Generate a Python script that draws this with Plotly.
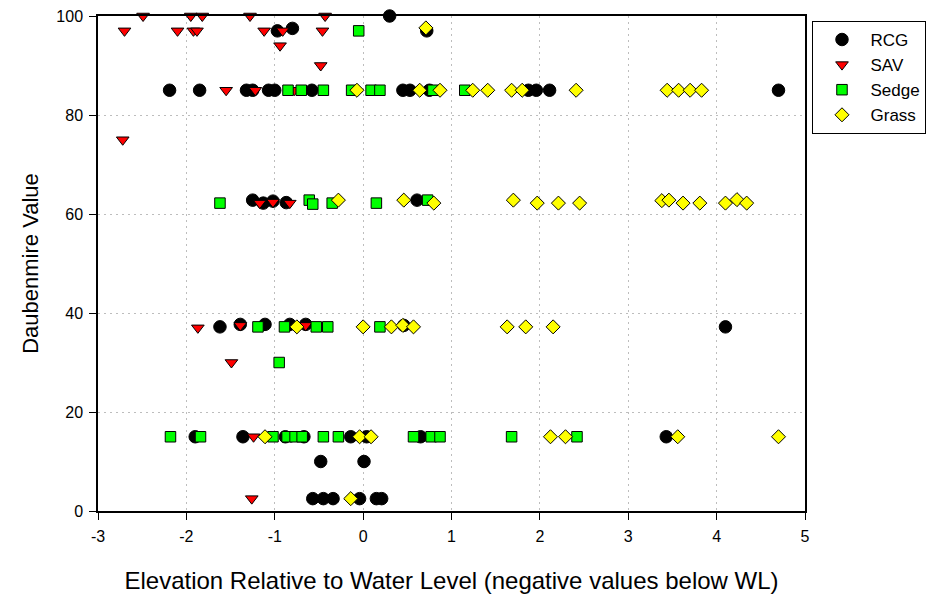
import plotly.graph_objects as go

# ---- data ----
rcg_x = [0.30, -0.97, -0.80, 0.72,
         -2.19, -1.85, -1.32, -1.25, -1.07, -1.00, -0.58, 0.45, 0.53, 0.75, 1.87, 1.96, 2.11, 4.70,
         -1.25, -1.13, -1.02, -0.87, 0.61,
         -1.62, -1.39, -1.11, -0.83, -0.65, 0.46, 4.10,
         -1.90, -1.36, -0.88, -0.67, -0.14, 0.04, 0.65, 3.43,
         -0.48, 0.01,
         -0.57, -0.45, -0.34, -0.04, 0.15, 0.21]
rcg_y = [100, 97, 97.5, 97,
         85, 85, 85, 85, 85, 85, 85, 85, 85, 85, 85, 85, 85, 85,
         62.8, 62.2, 62.6, 62.3, 62.8,
         37.2, 37.7, 37.7, 37.7, 37.7, 37.5, 37.2,
         15, 15, 15, 15, 15, 15, 15, 15,
         10, 10,
         2.5, 2.5, 2.5, 2.5, 2.5, 2.5]

sav_x = [-2.49, -1.95, -1.82, -1.28, -0.43,
         -2.70, -2.10, -1.92, -1.88, -1.12, -0.91, -0.46,
         -0.94, -0.48,
         -1.55, -1.22, -0.78,
         -2.72,
         -1.17, -1.02, -0.83,
         -1.87, -1.39, -0.65,
         -1.49, -1.24, -1.26]
sav_y = [100, 100, 100, 100, 100,
         97, 97, 97, 97, 97, 97, 97,
         94, 90,
         85, 85, 85,
         75,
         62.2, 62.4, 62.2,
         37.0, 37.5, 37.5,
         30, 15, 2.5]

sedge_x = [-0.05,
           -0.85, -0.70, -0.45, -0.13, 0.09, 0.19, 0.79, 1.15,
           -1.62, -0.61, -0.57, -0.35, 0.15, 0.73,
           -1.19, -0.89, -0.53, -0.40, 0.19,
           -0.95,
           -2.18, -1.84, -1.02, -0.86, -0.77, -0.69, -0.45, -0.28, 0.57, 0.77, 0.87, 1.68, 2.42]
sedge_y = [97,
           85, 85, 85, 85, 85, 85, 85, 85,
           62.2, 62.8, 62.0, 62.2, 62.2, 62.8,
           37.2, 37.2, 37.2, 37.2, 37.2,
           30,
           15, 15, 15, 15, 15, 15, 15, 15, 15, 15, 15, 15, 15]

grass_x = [0.71,
           -0.07, 0.64, 0.87, 1.24, 1.41, 1.68, 1.80, 2.41, 3.44, 3.57, 3.70, 3.83,
           -0.28, 0.46, 0.80, 1.70, 1.97, 2.21, 2.45, 3.38, 3.46, 3.62, 3.81, 4.10, 4.23, 4.34,
           -0.75, 0.00, 0.32, 0.45, 0.57, 1.63, 1.84, 2.15,
           -1.11, -0.04, 0.09, 2.12, 2.29, 3.56, 4.70,
           -0.14]
grass_y = [97.6,
           85, 85, 85, 85, 85, 85, 85, 85, 85, 85, 85, 85,
           62.8, 62.8, 62.2, 62.8, 62.2, 62.2, 62.2, 62.7, 62.8, 62.2, 62.2, 62.2, 62.9, 62.2,
           37.2, 37.2, 37.2, 37.5, 37.2, 37.2, 37.2, 37.2,
           15, 15, 15, 15, 15, 15, 15,
           2.5]

x_ticks = [-3, -2, -1, 0, 1, 2, 3, 4, 5]
y_ticks = [0, 20, 40, 60, 80, 100]

FONT = "Liberation Sans, Arial, sans-serif"

fig = go.Figure()
series = [
    ("RCG", rcg_x, rcg_y, "circle", "#000000", 12.5),
    ("SAV", sav_x, sav_y, "triangle-down", "#ff0000", 11),
    ("Sedge", sedge_x, sedge_y, "square", "#00ff00", 10.5),
    ("Grass", grass_x, grass_y, "diamond", "#ffff00", 10.8),
]
for name, xs, ys, sym, col, sz in series:
    fig.add_trace(go.Scatter(
        x=xs, y=ys, mode="markers", name=name, cliponaxis=False,
        marker=dict(symbol=sym, color=col, size=sz,
                    line=dict(color="#000000", width=1)),
    ))

fig.update_layout(
    width=942, height=595,
    margin=dict(l=98, r=136.5, t=16, b=83.5),
    paper_bgcolor="white", plot_bgcolor="white",
    font=dict(family=FONT, size=16, color="black"),
    showlegend=True,
    legend=dict(x=1.0106, xanchor="left", y=0.99, yanchor="top",
                bordercolor="black", borderwidth=1, bgcolor="white",
                font=dict(family=FONT, size=17), itemwidth=47,
                tracegroupgap=0),
)
fig.update_xaxes(
    range=[-3, 5], tickvals=x_ticks, ticktext=[str(v) for v in x_ticks],
    ticks="outside", ticklen=7, tickcolor="black", ticklabelstandoff=3,
    showline=True, linecolor="black", linewidth=1.5, mirror=True,
    showgrid=True, gridcolor="#bdbdbd", griddash="2px,4px", gridwidth=1,
    zeroline=False, automargin=False,
    title=dict(text="Elevation Relative to Water Level (negative values below WL)",
               font=dict(family=FONT, size=24), standoff=28),
    tickfont=dict(family=FONT, size=16),
)
fig.update_yaxes(
    range=[0, 100], tickvals=y_ticks, ticktext=[str(v) for v in y_ticks],
    ticks="outside", ticklen=7, tickcolor="black", ticklabelstandoff=3,
    showline=True, linecolor="black", linewidth=1.5, mirror=True,
    showgrid=True, gridcolor="#bdbdbd", griddash="2px,4px", gridwidth=1,
    zeroline=False, automargin=False,
    title=dict(text="Daubenmire Value", font=dict(family=FONT, size=22), standoff=12),
    tickfont=dict(family=FONT, size=16),
)

fig.write_html("out.html")
